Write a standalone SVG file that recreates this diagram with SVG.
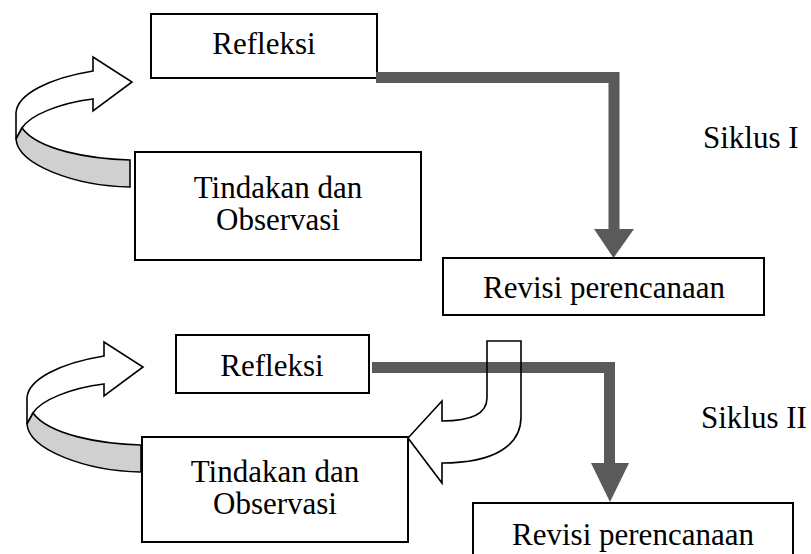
<svg xmlns="http://www.w3.org/2000/svg" width="811" height="554" viewBox="0 0 811 554">
<style>
.box{fill:#fff;stroke:#000;stroke-width:2}
.t{font-family:"Liberation Serif","Times New Roman",serif;font-size:31px;fill:#000}
.c{text-anchor:middle}
.bar{fill:none;stroke:#5a5a5a;stroke-width:11;stroke-linejoin:miter}
.head{fill:#5a5a5a}
.wf{fill:#fff;stroke:#000;stroke-width:1.6;stroke-linejoin:miter}
.gf{fill:#d0d0d0;stroke:#000;stroke-width:1.6}
.ol{fill:none;stroke:#000;stroke-width:1.6}
</style>
<defs>
<g id="curl">
<path class="wf" d="M93,71 C50,78 17,94 16,113 L16,139 L22,128 C30,115 60,103 93,99 L93,111 L132,82 L93,57 Z"/>
<path class="gf" d="M22,128 C38,150 90,159 130,160 L130,187 C75,186 18,165 16,139 Z"/>
</g>
</defs>

<g id="curl1"><use href="#curl"/></g>
<g id="curl2"><use href="#curl" transform="translate(11,285)"/></g>

<g id="refleksi1"><rect class="box" x="151" y="14" width="226" height="64"/><text class="t c" x="264" y="54">Refleksi</text></g>
<g id="tindakan1"><rect class="box" x="135" y="152" width="286" height="108"/><text class="t c" x="278" y="198">Tindakan dan</text><text class="t c" x="278" y="230">Observasi</text></g>
<g id="revisi1"><rect class="box" x="443" y="258" width="321" height="57"/><text class="t c" x="604" y="298">Revisi perencanaan</text></g>
<g id="siklus1"><text class="t" x="703" y="148">Siklus I</text></g>

<g id="refleksi2"><rect class="box" x="176" y="335" width="193" height="58"/><text class="t c" x="272" y="376">Refleksi</text></g>
<g id="tindakan2"><rect class="box" x="142" y="437" width="266" height="105"/><text class="t c" x="275" y="482">Tindakan dan</text><text class="t c" x="275" y="514">Observasi</text></g>
<g id="revisi2"><rect class="box" x="473" y="503" width="320" height="70"/><text class="t c" x="633" y="545">Revisi perencanaan</text></g>
<g id="siklus2"><text class="t" x="701" y="428">Siklus II</text></g>

<g id="uturn-fill"><path d="M487,341 L521,341 L521,417 C521,445 495,463 442,463 L442,483 L408,438 L442,401 L442,421 C470,421 487,415 487,398 Z" fill="#fff"/></g>

<g id="connectors">
<path class="bar" d="M376,77.5 H614 V230"/>
<polygon class="head" points="594,229 634,229 613.5,258"/>
<path class="bar" d="M372,367.5 H609.5 V463"/>
<polygon class="head" points="591,463 629,463 610,502"/>
</g>

<g id="uturn"><path class="ol" d="M487,341 L521,341 L521,417 C521,445 495,463 442,463 L442,483 L408,438 L442,401 L442,421 C470,421 487,415 487,398 Z"/></g>
</svg>
